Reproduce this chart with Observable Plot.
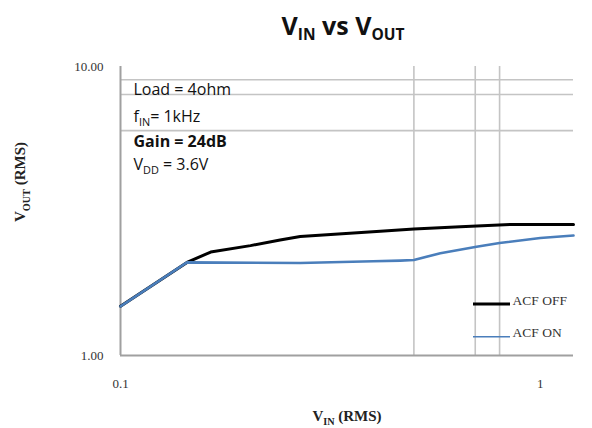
<!DOCTYPE html>
<html><head><meta charset="utf-8">
<script src="https://cdn.jsdelivr.net/npm/d3@7"></script>
<script src="https://cdn.jsdelivr.net/npm/@observablehq/plot@0.6"></script>
<style>
body{margin:0;background:#fff;}
#wrap{position:relative;width:592px;height:428px;overflow:hidden;background:#fff;}
#title{height:56px;box-sizing:border-box;padding-top:13px;padding-left:94px;text-align:center;font-family:"Open Sans";font-weight:700;font-size:25px;line-height:25px;color:#111;white-space:nowrap;}
#title sub{font-size:0.62em;vertical-align:-0.3em;line-height:0;}
svg{display:block;}
</style></head><body>
<div id="wrap"><div id="title">V<sub>IN</sub> vs V<sub>OUT</sub></div><div id="chart"></div></div>
<script>
// ---- data ----
const seriesNames = ["ACF OFF", "ACF ON"];
const vinOff  = [0.1, 0.144, 0.164, 0.204, 0.24, 0.268, 0.416, 0.5, 0.645, 0.848, 1.2];
const voutOff = [1.48, 2.10, 2.28, 2.40, 2.51, 2.58, 2.69, 2.74, 2.79, 2.84, 2.84];
const vinOn   = [0.1, 0.144, 0.268, 0.40, 0.464, 0.5, 0.578, 0.705, 0.80, 1.0, 1.2];
const voutOn  = [1.48, 2.10, 2.09, 2.12, 2.13, 2.14, 2.26, 2.38, 2.45, 2.55, 2.60];
const xTicks = [0.1, 1];
const yTicks = [1, 10];
const gridX = [0.5, 0.7, 0.8];
const gridY = [6, 8, 9];
const notes = ["Load = 4ohm", "f_{IN}= 1kHz", "Gain = 24dB", "V_{DD} = 3.6V"];
const xLabel = "V_{IN} (RMS)";
const yLabel = "V_{OUT} (RMS)";

const offData = vinOff.map((v, i) => ({vin: v, vout: voutOff[i]}));
const onData = vinOn.map((v, i) => ({vin: v, vout: voutOn[i]}));

const gridStyle = {stroke: "#c4c4c4", strokeWidth: 1.6};
const axisStyle = {stroke: "#a0a0a0", strokeWidth: 2};
const noteDy = [28, 55, 80.5, 103];

const svg = Plot.plot({
  width: 592,
  height: 372,
  marginTop: 10,
  marginBottom: 73,
  marginLeft: 120,
  marginRight: 19,
  style: {fontFamily: "Liberation Serif", fontSize: "13px", color: "#333", background: "#fff"},
  x: {type: "log", domain: [0.1, 1.2]},
  y: {type: "log", domain: [1, 10]},
  marks: [
    Plot.ruleX(gridX, gridStyle),
    Plot.ruleY(gridY, gridStyle),
    Plot.ruleX([xTicks[0]], axisStyle),
    Plot.ruleY([yTicks[0]], axisStyle),
    Plot.axisX({ticks: xTicks, tickFormat: d => String(d), tickSize: 0, tickPadding: 23, label: null, fontSize: 13}),
    Plot.axisY({ticks: yTicks, tickFormat: d => d.toFixed(2), tickSize: 0, tickPadding: 17, label: null, fontSize: 13}),
    Plot.line(offData, {x: "vin", y: "vout", stroke: "#000", strokeWidth: 3}),
    Plot.line(onData, {x: "vin", y: "vout", stroke: "#4a7ebb", strokeWidth: 2.6}),
    ...notes.map((t, i) => Plot.text([t], {
      frameAnchor: "top-left", textAnchor: "start", lineAnchor: "bottom",
      dx: 13, dy: noteDy[i], fontFamily: "Open Sans", fontSize: 16,
      fontWeight: i === 2 ? "bold" : "normal", fill: "#111"
    })),
    Plot.text([seriesNames[0]], {frameAnchor: "bottom-right", textAnchor: "start", dx: -61, dy: -51, fontSize: 13.5, fill: "#333"}),
    Plot.text([seriesNames[1]], {frameAnchor: "bottom-right", textAnchor: "start", dx: -61, dy: -18.3, fontSize: 13.5, fill: "#333"}),
    Plot.text([yLabel], {frameAnchor: "left", rotate: -90, dx: -100, dy: 11, fontSize: 15, fontWeight: "bold", fill: "#222"}),
    Plot.text([xLabel], {frameAnchor: "bottom", lineAnchor: "bottom", dy: 65, fontSize: 15, fontWeight: "bold", fill: "#222"})
  ]
});
document.getElementById("chart").appendChild(svg);

// legend line samples
const s = d3.select(svg);
s.append("line").attr("x1", 473).attr("x2", 510).attr("y1", 248).attr("y2", 248).attr("stroke", "#000").attr("stroke-width", 3);
s.append("line").attr("x1", 473).attr("x2", 510).attr("y1", 280.7).attr("y2", 280.7).attr("stroke", "#4a7ebb").attr("stroke-width", 1.5);

// subscripts: convert "_{..}" markup into tspans
svg.querySelectorAll("text").forEach(t => {
  const str = t.textContent;
  if (!str.includes("_{")) return;
  const fs = parseFloat(getComputedStyle(t).fontSize) || 14;
  const subSize = fs * 0.68, shift = fs * 0.28;
  const parts = str.split(/(_\{[^}]*\})/).filter(p => p.length);
  t.textContent = "";
  let lowered = false;
  parts.forEach(p => {
    const ts = document.createElementNS("http://www.w3.org/2000/svg", "tspan");
    if (p.startsWith("_{")) {
      ts.textContent = p.slice(2, -1);
      ts.setAttribute("font-size", subSize);
      ts.setAttribute("dy", shift);
      lowered = true;
    } else {
      ts.textContent = p;
      if (lowered) { ts.setAttribute("dy", -shift); lowered = false; }
    }
    t.appendChild(ts);
  });
});
</script>
</body></html>
